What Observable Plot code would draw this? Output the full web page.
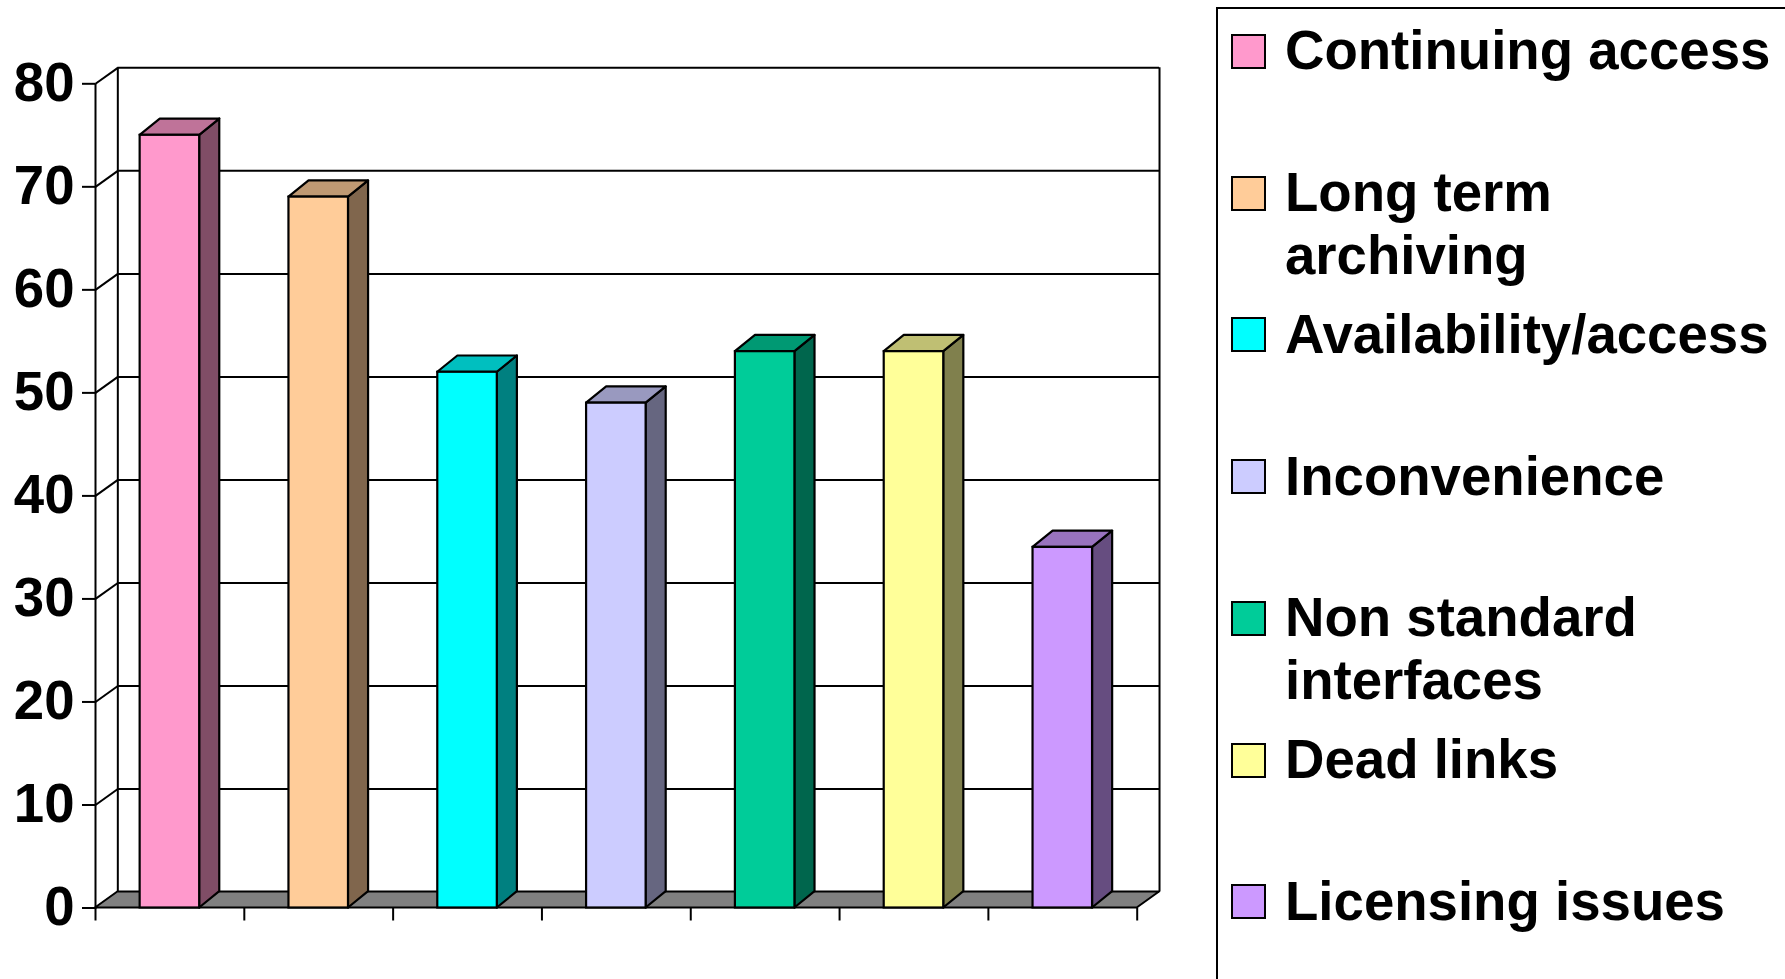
<!DOCTYPE html>
<html><head><meta charset="utf-8">
<script src="https://cdn.jsdelivr.net/npm/d3@7"></script>
<script src="https://cdn.jsdelivr.net/npm/@observablehq/plot@0.6"></script>
<style>
html,body{margin:0;padding:0;background:#fff;overflow:hidden;width:1785px;height:979px;}
#chart{position:absolute;left:0;top:0;}
#legend{position:absolute;left:1216px;top:7px;width:640px;height:1000px;border:2px solid #000;box-sizing:border-box;font-family:"Liberation Sans",Arial,sans-serif;font-weight:bold;font-size:54.6px;color:#000;background:#fff;}
.item{position:absolute;left:67px;line-height:63px;white-space:pre;}
.sw{position:absolute;left:13px;width:35px;height:35px;border:2px solid #000;box-sizing:border-box;}
</style></head><body>
<div id="chart"></div><div id="legend"></div>
<script>
// ---- data ----
const categories = ["Continuing access","Long term archiving","Availability/access","Inconvenience","Non standard interfaces","Dead links","Licensing issues"];
const legendLabels = ["Continuing access","Long term\narchiving","Availability/access","Inconvenience","Non standard\ninterfaces","Dead links","Licensing issues"];
const values = [75, 69, 52, 49, 54, 54, 35];
const colors = ["#FF99CC","#FFCC99","#00FFFF","#CCCCFF","#00CC99","#FFFF99","#CC99FF"];
const yTicks = [0, 10, 20, 30, 40, 50, 60, 70, 80];
const xTicks = [0, 1, 2, 3, 4, 5, 6, 7];

// ---- geometry (in scale units) ----
const W = 1210, H = 979;
const wallDX = 0.15, wallDY = 1.55, barDX = 0.135, barDY = 1.58, half = 0.2;
const n = categories.length;
function shade(hex, k) { const c = d3.rgb(hex); return d3.rgb(c.r * k, c.g * k, c.b * k).formatHex(); }

const bars = categories.map((c, i) => ({c, i, v: values[i], color: colors[i], side: shade(colors[i], 0.5), top: shade(colors[i], 0.75)}));
const front = bars.map(b => ({...b, x1: b.i + 0.5 - half, x2: b.i + 0.5 + half}));
const sides = bars.flatMap(b => [
  {c: b.c, fill: b.side, x: b.i + 0.5 + half, y1: 0, y2: b.v},
  {c: b.c, fill: b.side, x: b.i + 0.5 + half + barDX, y1: barDY, y2: b.v + barDY}
]);
const tops = bars.flatMap(b => [
  {c: b.c, fill: b.top, y: b.v, x1: b.i + 0.5 - half, x2: b.i + 0.5 + half},
  {c: b.c, fill: b.top, y: b.v + barDY, x1: b.i + 0.5 - half + barDX, x2: b.i + 0.5 + half + barDX}
]);
const floor = [{y: 0, x1: 0, x2: n}, {y: wallDY, x1: wallDX, x2: n + wallDX}];
const yMax = yTicks[yTicks.length - 1];
const sw = 2;

const chart = Plot.plot({
  width: W, height: H,
  marginLeft: 95, marginRight: W - 1136.7, marginTop: 83.3, marginBottom: H - 907.5,
  x: {type: "linear", domain: [0, n], axis: null},
  y: {domain: [0, yMax], axis: null},
  color: {type: "identity"},
  style: {fontFamily: "'Liberation Sans', Arial, sans-serif", fontWeight: "bold", fontSize: "54.6px", background: "#fff", color: "#000", overflow: "visible"},
  marks: [
    // back wall gridlines
    Plot.ruleY(yTicks, {y: d => d + wallDY, x1: wallDX, x2: n + wallDX, stroke: "#000", strokeWidth: sw}),
    Plot.ruleX([wallDX, n + wallDX], {y1: wallDY, y2: yMax + wallDY, stroke: "#000", strokeWidth: sw}),
    // side wall
    Plot.link(yTicks, {x1: 0, y1: d => d, x2: wallDX, y2: d => d + wallDY, stroke: "#000", strokeWidth: sw}),
    Plot.ruleX([0], {y1: 0, y2: yMax, stroke: "#000", strokeWidth: sw}),
    // floor
    Plot.areaX(floor, {y: "y", x1: "x1", x2: "x2", fill: "#808080", stroke: "#000", strokeWidth: sw}),
    // bars
    Plot.areaY(sides, {x: "x", y1: "y1", y2: "y2", z: "c", fill: "fill", stroke: "#000", strokeWidth: 2.2}),
    Plot.areaX(tops, {y: "y", x1: "x1", x2: "x2", z: "c", fill: "fill", stroke: "#000", strokeWidth: 2.2}),
    Plot.rect(front, {x1: "x1", x2: "x2", y1: 0, y2: "v", fill: "color", stroke: "#000", strokeWidth: 2.2}),
    // axes
    Plot.axisY(yTicks, {tickSize: 13, tickPadding: 8, strokeWidth: sw, stroke: "#000", fill: "#000"}),
    Plot.axisX(xTicks, {tickSize: 13, tickFormat: () => "", strokeWidth: sw, stroke: "#000"})
  ]
});
document.getElementById("chart").appendChild(chart);

// ---- legend ----
const legend = document.getElementById("legend");
legendLabels.forEach((lab, i) => {
  const base = 61 + i * 141.7;
  const s = document.createElement("div");
  s.className = "sw";
  s.style.top = (base - 36) + "px";
  s.style.background = colors[i];
  legend.appendChild(s);
  const t = document.createElement("div");
  t.className = "item";
  t.style.top = (base - 50.6) + "px";
  t.textContent = lab;
  legend.appendChild(t);
});
</script>
</body></html>
